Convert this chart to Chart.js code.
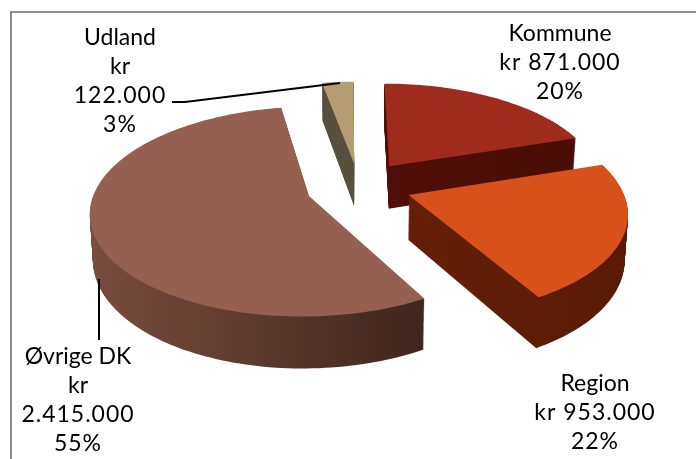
<!DOCTYPE html>
<html>
<head>
<meta charset="utf-8">
<title>Fordeling</title>
<script src="https://cdn.jsdelivr.net/npm/chart.js@4"></script>
<style>
  html, body { margin: 0; padding: 0; background: #fff; }
  #wrap { position: relative; width: 696px; height: 459px; }
</style>
</head>
<body>
<div id="wrap"><canvas id="pieChart" width="696" height="459"></canvas></div>
<script>
// Data
const categories = ['Kommune', 'Region', 'Øvrige DK', 'Udland'];
const amounts = [871000, 953000, 2415000, 122000];
const percents = [20, 22, 55, 3];

// Colours of each slice: top face, wall gradient left and right
const topColors = ['#9e2b1c', '#d8501a', '#95604f', '#b59c72'];
const wallLeft = ['#520f08', '#6a2107', '#7a4d3e', '#57503c'];
const wallRight = ['#470d05', '#581a05', '#3f261e', '#5e5236'];

// How far each slice is pulled out of the pie, in radii (sideways, backwards)
const explode = [[0.19, 0.243], [0.272, -0.05], [-0.19, -0.06], [0.02, 0.27]];

// Where each label sits, and whether "kr" gets its own line
const labelPos = [[560, 34], [595, 384], [78, 357], [120, 38]];
const krOwnLine = [false, false, true, true];
const lineHeight = 29;

// Camera of the fake 3D view
const view = { cx: 350, cy: 190, rx: 214, ry: 101, persp: 0.145, depth: 44, shrink: 0.012 };

function formatAmount(v) {
    return String(v).replace(/\B(?=(\d{3})+$)/g, '.');
}

// Point on the pie plane (in radii) to screen, t = 0 top face, t = 1 bottom face
function project(x, y, t) {
    const w = 1 / (1 + view.persp * y);
    const shrink = 1 - view.shrink * t;
    return {
        x: view.cx + x * view.rx * w * shrink,
        y: view.cy - y * view.ry * w + view.depth * w * t
    };
}

function traceSlice(ctx, arc, off, t) {
    const { startAngle, endAngle } = arc.getProps(['startAngle', 'endAngle'], true);
    const steps = Math.ceil((endAngle - startAngle) * 40);
    ctx.beginPath();
    let p = project(off[0], off[1], t);
    ctx.moveTo(p.x, p.y);
    for (let i = 0; i <= steps; i++) {
        const a = startAngle + (endAngle - startAngle) * i / steps;
        p = project(off[0] + Math.cos(a), off[1] - Math.sin(a), t);
        ctx.lineTo(p.x, p.y);
    }
    ctx.closePath();
}

// Draws the slices of the library's arcs as extruded, tilted pieces
const pie3d = {
    id: 'pie3d',
    beforeDatasetsDraw(chart) {
        const ctx = chart.ctx;
        const arcs = chart.getDatasetMeta(0).data;
        ctx.save();
        arcs.forEach((arc, i) => {
            const grad = ctx.createLinearGradient(i === 2 ? 89 : 320, 0, i === 2 ? 421 : 630, 0);
            grad.addColorStop(0, wallLeft[i]);
            grad.addColorStop(1, wallRight[i]);
            const layers = 50;
            for (let l = layers; l > 0; l--) {
                traceSlice(ctx, arc, explode[i], l / layers);
                ctx.fillStyle = grad;
                ctx.fill();
            }
            traceSlice(ctx, arc, explode[i], 0);
            ctx.fillStyle = topColors[i];
            ctx.fill();
        });
        ctx.restore();
        return false;
    },
    afterDraw(chart) {
        const ctx = chart.ctx;
        ctx.save();

        // Frame: only top and left are visible
        ctx.strokeStyle = '#8c8c8c';
        ctx.lineWidth = 2;
        ctx.beginPath();
        ctx.moveTo(696, 12);
        ctx.lineTo(11, 12);
        ctx.lineTo(11, 459);
        ctx.stroke();

        // Leader lines
        ctx.strokeStyle = '#000';
        ctx.lineWidth = 2;
        ctx.beginPath();
        ctx.moveTo(172, 102);
        ctx.lineTo(185, 102);
        ctx.lineTo(340, 83);
        ctx.moveTo(99, 279);
        ctx.lineTo(99, 340);
        ctx.stroke();

        // Labels, the digits in the picture run wider than the names
        ctx.fillStyle = '#000';
        ctx.font = '23px Lato';
        ctx.textAlign = 'center';
        ctx.textBaseline = 'middle';
        categories.forEach((name, i) => {
            const amount = formatAmount(amounts[i]);
            const lines = krOwnLine[i]
                ? [name, 'kr', amount, percents[i] + '%']
                : [name, 'kr ' + amount, percents[i] + '%'];
            lines.forEach((line, n) => {
                ctx.letterSpacing = /\d/.test(line) ? '1px' : '0px';
                ctx.fillText(line, labelPos[i][0], labelPos[i][1] + n * lineHeight);
            });
        });
        ctx.restore();
    }
};

const pieChart = new Chart(document.getElementById('pieChart').getContext('2d'), {
    type: 'pie',
    data: {
        labels: categories,
        datasets: [{ data: amounts, backgroundColor: topColors, borderWidth: 0 }]
    },
    options: {
        responsive: false,
        animation: false,
        plugins: {
            legend: { display: false },
            tooltip: { enabled: false }
        }
    },
    plugins: [pie3d]
});
</script>
</body>
</html>
